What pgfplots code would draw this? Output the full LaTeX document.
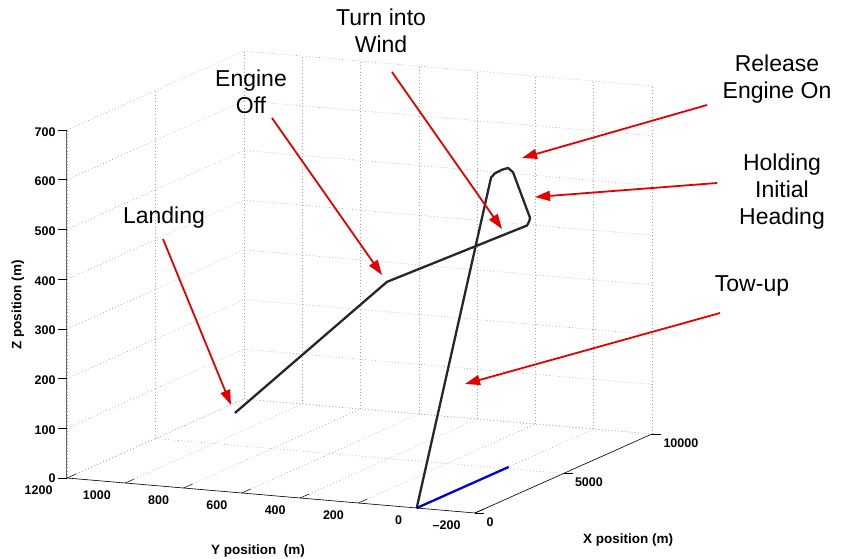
\documentclass[border=0pt]{standalone}
\usepackage{fontspec}
\setmainfont{Liberation Sans}
\setsansfont{Liberation Sans}
\usepackage{pgfplots}
\pgfplotsset{compat=1.18}
\usetikzlibrary{arrows.meta}

\begin{document}
\begin{tikzpicture}
\begin{axis}[
  x={(0.0177pt,0.0079pt)},
  y={(-0.29143pt,0.025pt)},
  z={(0pt,0.4971pt)},
  xmin=0,xmax=10000, ymin=-200,ymax=1200, zmin=0,zmax=700,
  xtick={0,5000,10000}, ytick={-200,0,200,400,600,800,1000,1200}, ztick={0,100,...,700},
  yticklabels={\textendash200,0,200,400,600,800,1000,1200},
  grid=major,
  major grid style={gray!75, line width=0.6pt, dash pattern=on 0.7pt off 2.6pt},
  axis line style={draw=none},
  tick style={draw=none},
  major tick length=8pt,
  tick pos=left,
  ztick align=outside,
  tick label style={font=\fontsize{12.5}{14}\selectfont\bfseries},
  yticklabel style={anchor=north east, xshift=-11pt, yshift=-4pt},
  xticklabel style={anchor=north west, xshift=8pt, yshift=-1pt},
  /pgf/number format/assume math mode=true,
  /pgf/number format/set thousands separator={},
  scaled x ticks=false,
  clip=false,
]
\addplot3[black!85, line width=2.3pt, line join=round] coordinates {
  (0,0,0) (4200,0,598) (4420,0,603) (4800,0,604) (5160,0,602) (5441,0,589)
  (6401,0,482) (6380,1,476) (6300,4,468) (4000,345,374) (2000,745,122)
};
\addplot3[blue!85!black, line width=2.3pt] coordinates {(0,0,0) (5200,0,0)};
\draw[gray!80!black, line width=1pt] (axis cs:0,1200,0) -- (axis cs:0,1200,700);
\draw[black, line width=0.6pt] (axis cs:0,1200,0) -- (axis cs:0,-200,0) -- (axis cs:10000,-200,0);
\pgfplotsinvokeforeach{0,100,200,300,400,500,600,700}{
  \draw[black, line width=0.5pt] (axis cs:0,1200,#1) -- ++(-9pt,0pt);}
\pgfplotsinvokeforeach{-200,0,200,400,600,800,1000,1200}{
  \draw[black, line width=0.5pt] (axis cs:0,#1,0) -- (axis cs:500,#1,0);}
\pgfplotsinvokeforeach{0,5000,10000}{
  \draw[black, line width=0.5pt] (axis cs:#1,-200,0) -- ++(9pt,0pt);}
\coordinate (O) at (axis cs:0,1200,0);
\end{axis}
\begin{scope}[shift={(O)}]
\begin{scope}[x=1pt,y=-1pt,shift={(-67,-478)}]
  \tikzset{ann/.style={red!90!black, line width=1.8pt, -{Triangle[length=15pt,width=10pt]}},
           lab/.style={font=\fontsize{23}{27}\selectfont, align=center, inner sep=0pt}}
  \draw[ann] (392,72) -- (502,229);
  \draw[ann] (272,118) -- (382,275);
  \draw[ann] (163,239) -- (231,405);
  \draw[ann] (707,105) -- (522,158);
  \draw[ann] (717,183) -- (535,197);
  \draw[ann] (720,313) -- (465,384);
  \node[lab] at (381,31) {Turn into\\Wind};
  \node[lab] at (251,92) {Engine\\Off};
  \node[lab] at (777,79) {Release\\Engine On};
  \node[lab] at (782,192) {Holding\\Initial\\Heading};
  \node[lab] at (164,218) {Landing};
  \node[lab] at (752,286) {Tow-up};
  \node[font=\fontsize{13.5}{15}\selectfont\bfseries] at (628,540) {X position (m)};
  \node[font=\fontsize{13.5}{15}\selectfont\bfseries] at (258,551) {Y position\ \ (m)};
  \node[font=\fontsize{13.5}{15}\selectfont\bfseries, rotate=90] at (18,305) {Z position (m)};
  \pgfresetboundingbox
  \path[use as bounding box] (0,0) rectangle (843,558);
\end{scope}
\end{scope}
\end{tikzpicture}
\end{document}
